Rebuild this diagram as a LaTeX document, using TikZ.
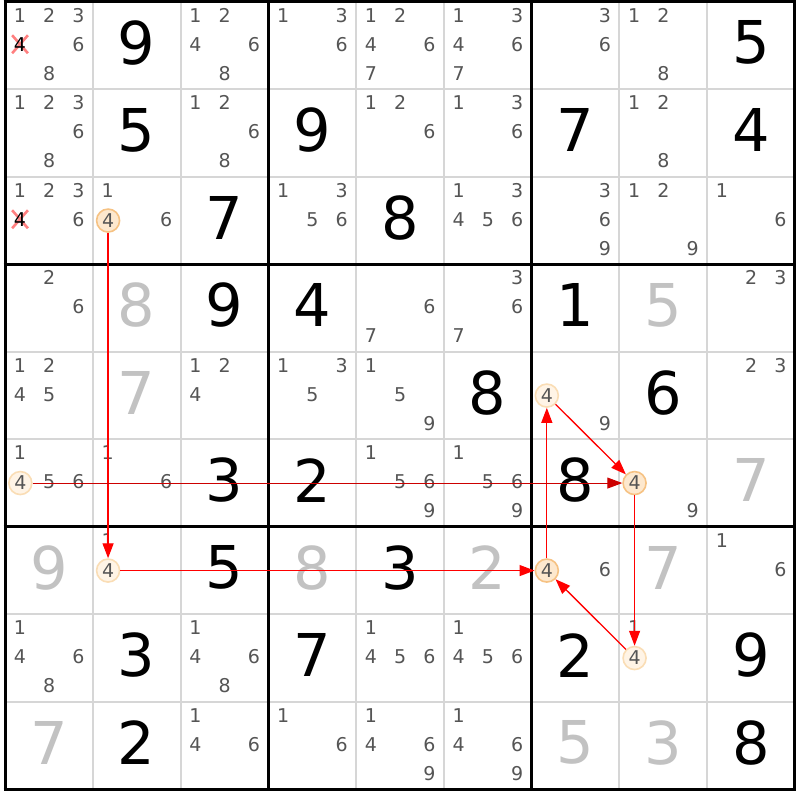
\documentclass[tikz,border=0pt]{standalone}
\usepackage{fontspec}
\setmainfont{DejaVu Sans}
\usetikzlibrary{arrows.meta}
\definecolor{candc}{HTML}{555555}
\definecolor{solvc}{HTML}{C2C2C2}
\definecolor{thinc}{HTML}{D6D6D6}
\definecolor{hlfill}{HTML}{FDE8CE}
\definecolor{hldraw}{HTML}{F6C283}
\definecolor{hlfillb}{HTML}{FFF4E6}
\definecolor{hldrawb}{HTML}{FADDB5}
\definecolor{xcol}{HTML}{FF8080}
\pgfdeclarelayer{bg}
\pgfsetlayers{bg,main}
\tikzset{
  cand/.style={font=\fontsize{19}{19}\selectfont, text=candc, inner sep=0pt},
  given/.style={font=\fontsize{59}{59}\selectfont, text=black, inner sep=0pt},
  solved/.style={given, text=solvc},
  hl/.style={circle, draw=hldraw, fill=hlfill, line width=1.6pt, minimum size=23pt, inner sep=0pt, font=\fontsize{19}{19}\selectfont, text=candc},
  hlb/.style={hl, draw=hldrawb, fill=hlfillb},
  link/.style={red, line width=1.3pt, -{Triangle[length=15pt,width=11pt]}},
  xmark/.style={xcol, line width=2.6pt, shorten <=-2.5pt, shorten >=-2.5pt},
  thinline/.style={thinc, line width=2pt},
  thickline/.style={black, line width=3pt},
}
\begin{document}
\begin{tikzpicture}[x=1pt,y=-1pt]
\useasboundingbox (0,0) rectangle (800,800);
\begin{pgfonlayer}{bg}
\fill[white] (0,0) rectangle (800,800);
\end{pgfonlayer}
% thin grid lines
\foreach \i in {1,2,4,5,7,8}{
  \draw[thinline] ({5+\i*87.75},1.5) -- ({5+\i*87.75},789);
  \draw[thinline] (5,{1.5+\i*87.5}) -- (794.75,{1.5+\i*87.5});
}
% thick grid lines
\foreach \i in {0,3,6,9}{
  \draw[thickline] ({5+\i*87.75},0) -- ({5+\i*87.75},790.5);
  \draw[thickline] (3.5,{1.5+\i*87.5}) -- (796.25,{1.5+\i*87.5});
}
% givens
\foreach \r/\c/\d in {1/2/9,1/9/5,2/2/5,2/4/9,2/7/7,2/9/4,3/3/7,3/5/8,4/3/9,4/4/4,4/7/1,5/6/8,5/8/6,6/3/3,6/4/2,6/7/8,7/3/5,7/5/3,8/2/3,8/4/7,8/7/2,8/9/9,9/2/2,9/9/8}
  \node[given] (g\r\c) at ({5+(\c-0.5)*87.75},{1.5+(\r-0.5)*87.5-2.5}) {\d};
% solved
\foreach \r/\c/\d in {4/2/8,4/8/5,5/2/7,6/9/7,7/1/9,7/4/8,7/6/2,7/8/7,9/1/7,9/7/5,9/8/3}
  \node[solved] (s\r\c) at ({5+(\c-0.5)*87.75},{1.5+(\r-0.5)*87.5-2.5}) {\d};
% candidates
\foreach \r/\c/\L in {1/1/{1,2,3,6,8},1/3/{1,2,4,6,8},1/4/{1,3,6},1/5/{1,2,4,6,7},1/6/{1,3,4,6,7},1/7/{3,6},1/8/{1,2,8},
  2/1/{1,2,3,6,8},2/3/{1,2,6,8},2/5/{1,2,6},2/6/{1,3,6},2/8/{1,2,8},
  3/1/{1,2,3,6},3/2/{1,6},3/4/{1,3,5,6},3/6/{1,3,4,5,6},3/7/{3,6,9},3/8/{1,2,9},3/9/{1,6},
  4/1/{2,6},4/5/{6,7},4/6/{3,6,7},4/9/{2,3},
  5/1/{1,2,4,5},5/3/{1,2,4},5/4/{1,3,5},5/5/{1,5,9},5/7/{9},5/9/{2,3},
  6/1/{1,5,6},6/2/{1,6},6/5/{1,5,6,9},6/6/{1,5,6,9},6/8/{9},
  7/2/{1},7/7/{6},7/9/{1,6},
  8/1/{1,4,6,8},8/3/{1,4,6,8},8/5/{1,4,5,6},8/6/{1,4,5,6},8/8/{1},
  9/3/{1,4,6},9/4/{1,6},9/5/{1,4,6,9},9/6/{1,4,6,9}}{
  \foreach \d in \L {
    \pgfmathtruncatemacro\kk{mod(\d-1,3)}
    \pgfmathtruncatemacro\jj{(\d-1)/3}
    \node[cand] (c\r\c\d) at ({5.4+(\c-1)*87.75+(\kk+0.5)*29.25},{1.5+(\r-1)*87.5+(\jj+0.5)*29.17-1}) {\d};
  }
}
% crossed-out candidates
\foreach \r in {1,3}{
  \node[cand, text=black] (x\r1) at ({5.4+0.5*29.25},{1.5+(\r-1)*87.5+1.5*29.17-1}) {4};
  \begin{pgfonlayer}{bg}
  \draw[xmark] (x\r1.north west) -- (x\r1.south east);
  \draw[xmark] (x\r1.north east) -- (x\r1.south west);
  \end{pgfonlayer}
}
% highlighted candidates
\foreach \r/\c in {3/2,7/7,6/8}
  \node[hl] (h\r\c) at ({5.7+(\c-1)*87.75+0.5*29.25},{1.5+(\r-1)*87.5+1.5*29.17+0.3}) {4};
\foreach \r/\c in {7/2,5/7,8/8,6/1}
  \node[hlb] (h\r\c) at ({5.7+(\c-1)*87.75+0.5*29.25},{1.5+(\r-1)*87.5+1.5*29.17+0.3}) {4};
% links
\draw[link] (h32) -- (h72);
\draw[link] (h72) -- (h77);
\draw[link] (h77) -- (h57);
\draw[link] (h57) -- (h68);
\draw[link] (h68) -- (h88);
\draw[link] (h88) -- (h77);
\draw[link, red!80!black, line width=1pt] (h61) -- (h68);
\end{tikzpicture}
\end{document}
